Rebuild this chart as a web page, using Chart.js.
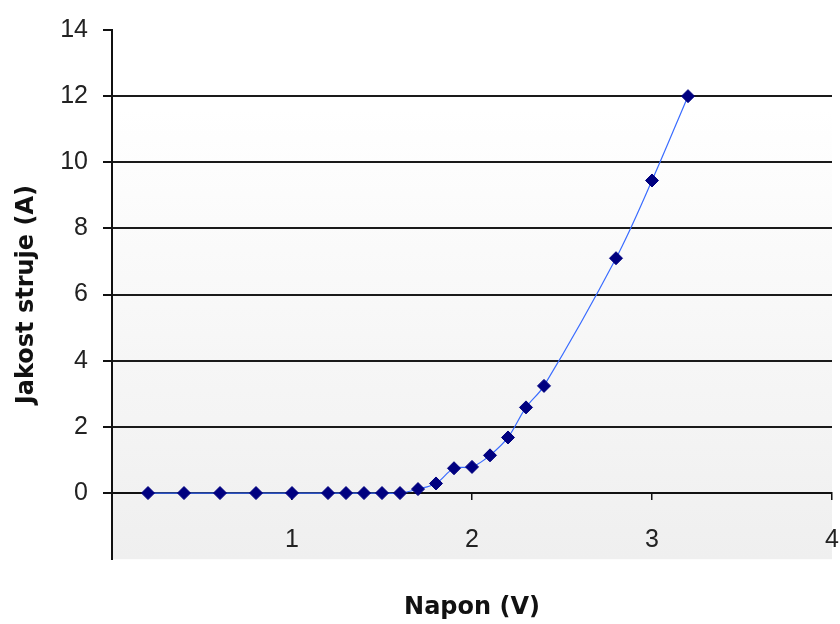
<!DOCTYPE html>
<html>
<head>
<meta charset="utf-8">
<script src="https://cdn.jsdelivr.net/npm/chart.js@4/dist/chart.umd.min.js"></script>
<style>
  html, body { margin: 0; padding: 0; background: #fff; }
  #wrap { width: 840px; height: 624px; }
</style>
</head>
<body>
<div id="wrap"><canvas id="c" width="840" height="624"></canvas></div>
<script>
const voltage = [0.2, 0.4, 0.6, 0.8, 1.0, 1.2, 1.3, 1.4, 1.5, 1.6, 1.7, 1.8, 1.9, 2.0, 2.1, 2.2, 2.3, 2.4, 2.8, 3.0, 3.2];
const current = [0, 0, 0, 0, 0, 0, 0, 0, 0, 0, 0.12, 0.29, 0.75, 0.79, 1.14, 1.68, 2.59, 3.24, 7.1, 9.45, 12.0];
const xTitle = 'Napon (V)';
const yTitle = 'Jakost struje (A)';
const xRange = [0, 4];
const yRange = [-2, 14];

const points = voltage.map((v, i) => ({ x: v, y: current[i] }));

const plotBg = {
  id: 'plotBg',
  beforeDraw(chart) {
    const { ctx, chartArea: a } = chart;
    const g = ctx.createLinearGradient(0, a.top, 0, a.bottom);
    g.addColorStop(0, '#ffffff');
    g.addColorStop(0.15, '#ffffff');
    g.addColorStop(1, '#efefef');
    ctx.save();
    ctx.fillStyle = g;
    ctx.fillRect(a.left, a.top, a.right - a.left, a.bottom - a.top);
    ctx.restore();
  }
};

new Chart(document.getElementById('c'), {
  type: 'line',
  data: {
    datasets: [{
      data: points,
      borderColor: '#3a6cff',
      borderWidth: 1.2,
      tension: 0.35,
      pointStyle: 'rectRot',
      pointRadius: 6.5,
      pointBackgroundColor: '#000080',
      pointBorderColor: '#000080',
      pointBorderWidth: 1,
      fill: false
    }]
  },
  options: {
    responsive: false,
    animation: false,
    devicePixelRatio: 1,
    layout: { padding: { top: 29, right: 8, left: 0, bottom: 0 } },
    plugins: {
      legend: { display: false },
      tooltip: { enabled: false },
      title: {
        display: true,
        text: xTitle,
        position: 'bottom',
        fullSize: false,
        color: '#111',
        font: { family: 'DejaVu Sans', size: 24, weight: 'bold' },
        padding: { top: 34, bottom: 2 }
      }
    },
    scales: {
      x: {
        type: 'linear',
        position: { y: 0 },
        min: xRange[0],
        max: xRange[1],
        afterFit(s) { s.height = 0; s.paddingLeft = 0; s.paddingRight = 0; },
        ticks: {
          stepSize: 1,
          padding: 26,
          maxRotation: 0,
          color: '#222',
          font: { family: 'Liberation Sans', size: 25 },
          callback: (v) => (v === 0 ? null : String(v))
        },
        grid: {
          drawOnChartArea: false,
          drawTicks: true,
          tickLength: 6,
          tickColor: '#111',
          lineWidth: 1.5
        },
        border: { display: true, color: '#111', width: 2 }
      },
      y: {
        type: 'linear',
        position: 'left',
        min: yRange[0],
        max: yRange[1],
        afterFit(s) { s.width = 112; },
        ticks: {
          stepSize: 2,
          padding: 15,
          color: '#222',
          font: { family: 'Liberation Sans', size: 25 },
          callback: (v) => (v < 0 ? null : String(v))
        },
        grid: {
          drawTicks: true,
          tickLength: 9,
          tickColor: '#111',
          lineWidth: 2,
          color: (c) => (c.tick && (c.tick.value <= 0 || c.tick.value >= 14) ? 'rgba(0,0,0,0)' : '#1a1a1a')
        },
        border: { display: true, color: '#111', width: 2 },
        title: {
          display: true,
          text: yTitle,
          color: '#111',
          font: { family: 'DejaVu Sans', size: 24, weight: 'bold' },
          padding: { top: 12, bottom: 0 }
        }
      }
    }
  },
  plugins: [plotBg]
});
</script>
</body>
</html>
